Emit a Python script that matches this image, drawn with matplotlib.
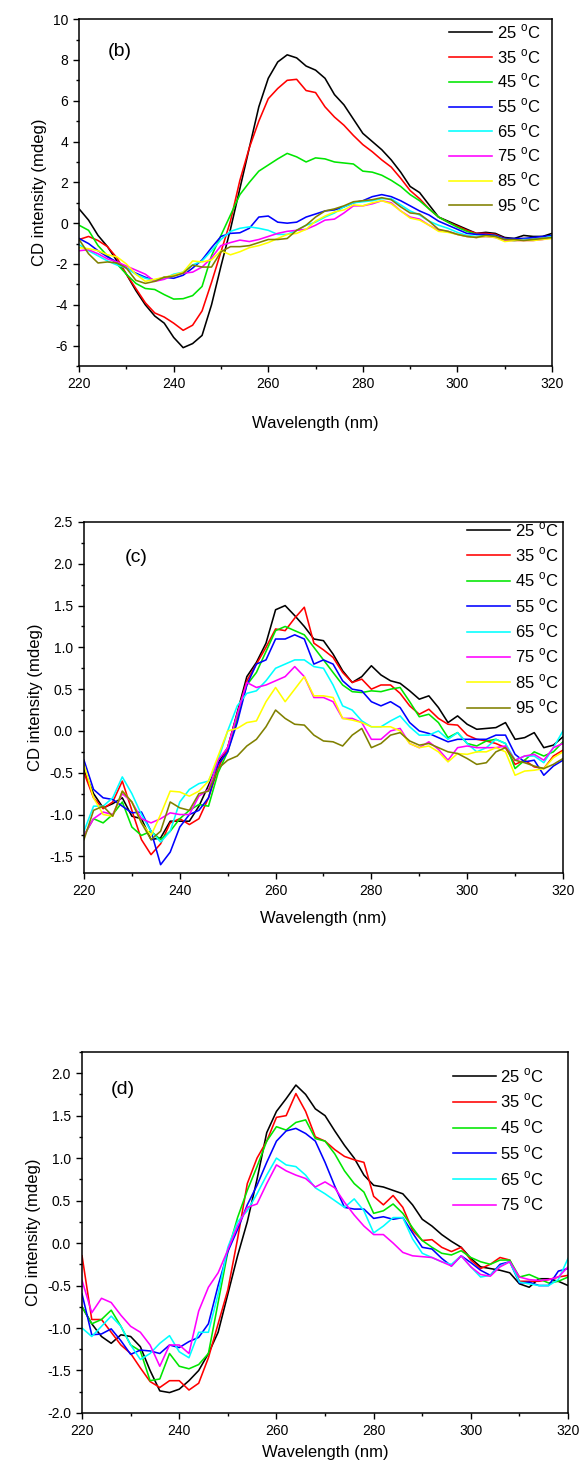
import numpy as np
import matplotlib
matplotlib.use('Agg')
import matplotlib.pyplot as plt
from matplotlib.ticker import MultipleLocator, FormatStrFormatter

plt.rcParams['font.family'] = ['Liberation Sans', 'DejaVu Sans']
plt.rcParams['axes.unicode_minus'] = False
plt.rcParams['mathtext.fontset'] = 'custom'
plt.rcParams['mathtext.rm'] = 'Liberation Sans'

# wavelength grid (nm), read every 2 nm
wl = np.arange(220, 321, 2)
temps = ['25', '35', '45', '55', '65', '75', '85', '95']
colors = ['#000000', '#ff0000', '#00e600', '#0000ff', '#00ffff', '#ff00ff', '#ffff00', '#808000']

# ---- panel (b) ----
b_25 = [0.7, 0.15, -0.6, -1.15, -1.85, -2.5, -3.3, -4.0, -4.55, -4.9, -5.6, -6.1, -5.9, -5.5, -4.0, -2.1, -0.3, 1.7, 3.7, 5.7, 7.1,
        7.9, 8.25, 8.1, 7.7, 7.5, 7.1, 6.3, 5.8, 5.1, 4.4, 4.0, 3.6, 3.1, 2.5, 1.8, 1.5, 0.9, 0.3, 0.1, -0.1,
        -0.3, -0.5, -0.45, -0.5, -0.7, -0.75, -0.6, -0.65, -0.65, -0.5]
b_35 = [-0.8, -0.65, -0.85, -1.15, -1.7, -2.5, -3.2, -3.9, -4.4, -4.6, -4.9, -5.25, -5.0, -4.3, -2.9, -1.4, 0.1, 2.1, 3.7, 5.0, 6.1,
        6.6, 7.0, 7.05, 6.5, 6.4, 5.7, 5.2, 4.8, 4.3, 3.85, 3.5, 3.1, 2.75, 2.2, 1.6, 1.2, 0.7, 0.3, 0.05, -0.15,
        -0.35, -0.5, -0.5, -0.55, -0.75, -0.8, -0.75, -0.8, -0.75, -0.7]
b_45 = [-0.1, -0.35, -1.1, -1.6, -2.0, -2.5, -2.95, -3.2, -3.25, -3.5, -3.72, -3.7, -3.55, -3.1, -1.6, -0.6, 0.4, 1.4, 2.0, 2.55, 2.85,
        3.15, 3.42, 3.25, 3.0, 3.2, 3.15, 3.0, 2.95, 2.9, 2.55, 2.5, 2.35, 2.1, 1.8, 1.4, 1.1, 0.7, 0.3, 0.05, -0.2,
        -0.4, -0.55, -0.6, -0.6, -0.8, -0.85, -0.8, -0.8, -0.75, -0.7]
b_55 = [-0.75, -1.0, -1.35, -1.65, -1.9, -2.2, -2.45, -2.65, -2.8, -2.65, -2.7, -2.55, -2.2, -1.8, -1.2, -0.65, -0.5, -0.47, -0.25, 0.3, 0.35,
        0.05, 0.0, 0.05, 0.3, 0.45, 0.6, 0.65, 0.8, 1.0, 1.1, 1.3, 1.4, 1.3, 1.1, 0.85, 0.6, 0.4, 0.1, -0.1, -0.3,
        -0.5, -0.55, -0.55, -0.6, -0.75, -0.75, -0.75, -0.7, -0.65, -0.6]
b_65 = [-1.05, -1.35, -1.6, -1.85, -2.05, -2.2, -2.5, -2.7, -2.8, -2.7, -2.5, -2.4, -2.05, -1.85, -1.35, -0.8, -0.4, -0.25, -0.18, -0.25, -0.35,
        -0.55, -0.55, -0.35, -0.1, 0.05, 0.3, 0.5, 0.8, 1.0, 1.05, 1.1, 1.2, 1.2, 0.9, 0.6, 0.4, 0.1, -0.1, -0.25, -0.45,
        -0.6, -0.65, -0.65, -0.65, -0.8, -0.85, -0.8, -0.8, -0.75, -0.65]
b_75 = [-1.35, -1.3, -1.5, -1.75, -1.9, -2.1, -2.3, -2.5, -2.85, -2.75, -2.55, -2.45, -2.4, -2.15, -1.7, -1.1, -0.95, -0.83, -0.9, -0.8, -0.65,
        -0.5, -0.4, -0.35, -0.3, -0.1, 0.15, 0.2, 0.5, 0.85, 0.85, 0.95, 1.1, 1.0, 0.6, 0.3, 0.2, -0.1, -0.35, -0.4, -0.55,
        -0.65, -0.7, -0.65, -0.7, -0.85, -0.85, -0.85, -0.85, -0.8, -0.7]
b_85 = [-1.2, -1.25, -1.35, -1.55, -1.65, -2.0, -2.5, -2.85, -2.75, -2.65, -2.55, -2.4, -1.85, -1.9, -1.8, -1.35, -1.55, -1.4, -1.2, -1.1, -0.95,
        -0.75, -0.55, -0.5, -0.3, 0.1, 0.35, 0.55, 0.65, 0.9, 0.85, 1.0, 1.1, 0.95, 0.6, 0.25, 0.15, -0.1, -0.4, -0.45, -0.55,
        -0.65, -0.7, -0.65, -0.7, -0.9, -0.85, -0.85, -0.85, -0.8, -0.75]
b_95 = [-0.8, -1.5, -1.95, -1.9, -1.95, -2.2, -2.8, -2.95, -2.85, -2.65, -2.6, -2.45, -2.05, -2.15, -2.15, -1.4, -1.15, -1.15, -1.1, -0.95, -0.8,
        -0.8, -0.75, -0.35, -0.1, 0.3, 0.6, 0.7, 0.85, 1.05, 1.1, 1.15, 1.25, 1.15, 0.8, 0.5, 0.45, 0.1, -0.3, -0.4, -0.55,
        -0.65, -0.7, -0.6, -0.65, -0.8, -0.8, -0.85, -0.8, -0.75, -0.7]

# ---- panel (c) ----
c_25 = [-0.47, -0.75, -0.92, -0.87, -0.8, -1.02, -1.05, -1.3, -1.28, -1.08, -1.08, -1.08, -0.9, -0.65, -0.38, -0.2, 0.22, 0.65, 0.82, 1.05, 1.45,
        1.5, 1.38, 1.25, 1.1, 1.08, 0.92, 0.72, 0.58, 0.65, 0.78, 0.67, 0.6, 0.57, 0.48, 0.38, 0.42, 0.28, 0.1, 0.18, 0.08,
        0.02, 0.03, 0.04, 0.1, -0.1, -0.08, -0.02, -0.2, -0.17, -0.07]
c_35 = [-0.5, -0.8, -0.93, -0.85, -0.6, -0.95, -1.3, -1.48, -1.35, -1.1, -1.05, -1.12, -1.05, -0.8, -0.45, -0.2, 0.2, 0.6, 0.8, 1.0, 1.22,
        1.2, 1.35, 1.48, 1.05, 0.97, 0.88, 0.7, 0.58, 0.62, 0.5, 0.55, 0.55, 0.45, 0.3, 0.2, 0.26, 0.15, 0.08, 0.07, -0.05,
        -0.1, -0.12, -0.15, -0.2, -0.4, -0.35, -0.43, -0.45, -0.3, -0.23]
c_45 = [-1.25, -1.05, -1.1, -1.0, -0.85, -1.15, -1.25, -1.2, -1.3, -1.2, -1.05, -0.95, -0.88, -0.9, -0.5, -0.25, 0.15, 0.55, 0.7, 0.95, 1.2,
        1.25, 1.2, 1.15, 1.0, 0.85, 0.7, 0.55, 0.47, 0.46, 0.48, 0.47, 0.5, 0.52, 0.35, 0.17, 0.2, 0.1, -0.08, -0.02, -0.15,
        -0.18, -0.12, -0.1, -0.15, -0.45, -0.35, -0.25, -0.3, -0.25, -0.13]
c_55 = [-0.35, -0.7, -0.8, -0.82, -0.9, -0.98, -0.97, -1.2, -1.6, -1.45, -1.15, -1.0, -0.95, -0.8, -0.4, -0.25, 0.1, 0.55, 0.8, 0.85, 1.1,
        1.1, 1.15, 1.1, 0.8, 0.85, 0.8, 0.6, 0.5, 0.48, 0.35, 0.3, 0.35, 0.28, 0.1, 0.0, -0.03, -0.08, -0.13, -0.1, -0.1,
        -0.1, -0.1, -0.05, -0.05, -0.28, -0.37, -0.35, -0.53, -0.42, -0.35]
c_65 = [-1.2, -0.9, -0.9, -0.8, -0.55, -0.75, -1.0, -1.2, -1.33, -1.2, -0.85, -0.7, -0.63, -0.6, -0.35, 0.0, 0.3, 0.45, 0.48, 0.6, 0.75,
        0.8, 0.85, 0.85, 0.77, 0.75, 0.55, 0.3, 0.25, 0.12, 0.05, 0.05, 0.12, 0.18, 0.05, -0.05, -0.05, 0.0, -0.1, -0.02, -0.15,
        -0.25, -0.2, -0.1, -0.15, -0.35, -0.3, -0.3, -0.38, -0.2, 0.0]
c_75 = [-1.25, -1.05, -0.97, -1.0, -0.75, -0.85, -1.05, -1.1, -1.05, -0.98, -1.0, -1.0, -0.78, -0.7, -0.35, -0.2, 0.2, 0.58, 0.52, 0.55, 0.6,
        0.65, 0.77, 0.65, 0.4, 0.4, 0.35, 0.15, 0.15, 0.1, -0.1, -0.1, 0.0, 0.03, -0.15, -0.2, -0.13, -0.22, -0.35, -0.2, -0.18,
        -0.2, -0.2, -0.2, -0.18, -0.35, -0.3, -0.28, -0.35, -0.2, -0.15]
c_85 = [-0.4, -0.8, -1.0, -1.02, -0.72, -0.85, -1.1, -1.25, -1.0, -0.72, -0.73, -0.78, -0.72, -0.6, -0.3, 0.0, 0.03, 0.1, 0.12, 0.35, 0.52,
        0.35, 0.5, 0.65, 0.42, 0.42, 0.4, 0.15, 0.13, 0.1, 0.05, 0.05, 0.05, 0.0, -0.15, -0.2, -0.18, -0.25, -0.37, -0.27, -0.28,
        -0.25, -0.25, -0.2, -0.25, -0.53, -0.48, -0.47, -0.45, -0.32, -0.25]
c_95 = [-1.3, -0.95, -0.9, -1.02, -0.72, -0.85, -1.1, -1.3, -1.2, -0.85, -0.92, -0.95, -0.75, -0.72, -0.45, -0.35, -0.3, -0.18, -0.1, 0.05, 0.25,
        0.15, 0.08, 0.07, -0.05, -0.12, -0.13, -0.18, -0.05, 0.03, -0.2, -0.15, -0.05, -0.02, -0.12, -0.17, -0.15, -0.2, -0.25, -0.27, -0.33,
        -0.4, -0.38, -0.25, -0.2, -0.35, -0.38, -0.42, -0.45, -0.4, -0.33]

# ---- panel (d) ----
d_25 = [-0.75, -0.95, -1.1, -1.18, -1.08, -1.1, -1.22, -1.5, -1.74, -1.76, -1.72, -1.62, -1.5, -1.3, -1.05, -0.6, -0.15, 0.25, 0.75, 1.3, 1.55,
        1.7, 1.86, 1.75, 1.58, 1.5, 1.32, 1.15, 1.0, 0.8, 0.68, 0.66, 0.62, 0.58, 0.45, 0.28, 0.2, 0.1, 0.02, -0.05, -0.18,
        -0.28, -0.3, -0.32, -0.35, -0.48, -0.52, -0.42, -0.42, -0.45, -0.5]
d_35 = [-0.15, -0.9, -0.9, -1.05, -1.2, -1.3, -1.47, -1.63, -1.7, -1.62, -1.62, -1.73, -1.65, -1.35, -0.95, -0.55, 0.05, 0.7, 1.0, 1.2, 1.48,
        1.5, 1.76, 1.55, 1.25, 1.2, 1.1, 1.02, 0.98, 0.95, 0.55, 0.45, 0.56, 0.42, 0.15, 0.03, 0.04, -0.05, -0.1, -0.05, -0.2,
        -0.3, -0.25, -0.17, -0.2, -0.45, -0.45, -0.45, -0.43, -0.4, -0.38]
d_45 = [-0.75, -0.95, -0.9, -0.79, -0.98, -1.2, -1.27, -1.62, -1.6, -1.3, -1.45, -1.48, -1.43, -1.3, -0.7, -0.1, 0.3, 0.62, 0.9, 1.2, 1.37,
        1.33, 1.42, 1.45, 1.23, 1.2, 1.05, 0.85, 0.7, 0.6, 0.35, 0.38, 0.46, 0.35, 0.18, 0.03, -0.05, -0.12, -0.14, -0.09, -0.17,
        -0.22, -0.25, -0.2, -0.2, -0.4, -0.37, -0.42, -0.47, -0.45, -0.4]
d_55 = [-0.6, -1.08, -1.07, -1.01, -1.15, -1.31, -1.26, -1.27, -1.3, -1.2, -1.23, -1.16, -1.11, -0.95, -0.5, -0.1, 0.16, 0.45, 0.68, 0.95, 1.2,
        1.32, 1.35, 1.29, 1.2, 0.95, 0.67, 0.42, 0.4, 0.4, 0.29, 0.31, 0.28, 0.3, 0.12, -0.05, -0.07, -0.18, -0.27, -0.15, -0.23,
        -0.32, -0.38, -0.25, -0.22, -0.47, -0.46, -0.5, -0.5, -0.33, -0.3]
d_65 = [-1.0, -1.1, -0.98, -0.86, -0.98, -1.2, -1.37, -1.3, -1.18, -1.09, -1.28, -1.35, -1.05, -1.05, -0.6, -0.05, 0.25, 0.38, 0.58, 0.8, 1.0,
        0.92, 0.9, 0.8, 0.65, 0.58, 0.5, 0.42, 0.52, 0.38, 0.12, 0.2, 0.3, 0.3, 0.05, -0.12, -0.17, -0.22, -0.25, -0.15, -0.28,
        -0.4, -0.38, -0.27, -0.22, -0.46, -0.48, -0.5, -0.5, -0.43, -0.18]
d_75 = [-0.44, -0.82, -0.65, -0.7, -0.85, -0.98, -1.05, -1.2, -1.45, -1.2, -1.2, -1.3, -0.8, -0.52, -0.35, -0.08, 0.2, 0.42, 0.46, 0.7, 0.92,
        0.85, 0.8, 0.76, 0.66, 0.72, 0.65, 0.48, 0.33, 0.2, 0.1, 0.1, 0.0, -0.11, -0.15, -0.16, -0.17, -0.22, -0.27, -0.15, -0.28,
        -0.37, -0.39, -0.28, -0.22, -0.4, -0.43, -0.44, -0.43, -0.4, -0.28]

panels = [
    dict(tag='(b)', series=[b_25, b_35, b_45, b_55, b_65, b_75, b_85, b_95],
         rect=[0.135, 0.751, 0.807, 0.236], ylim=(-7, 10), major=2, minor=1, fmt='%d',
         tagpos=(226.0, 8.4), leg=(0.975, 0.99), lsp=0.36, xpad=18),
    dict(tag='(c)', series=[c_25, c_35, c_45, c_55, c_65, c_75, c_85, c_95],
         rect=[0.1433, 0.4061, 0.8174, 0.2388], ylim=(-1.7, 2.5), major=0.5, minor=0.25, fmt='%.1f',
         tagpos=(228.5, 2.07), leg=(0.99, 1.005), lsp=0.4, xpad=9),
    dict(tag='(d)', series=[d_25, d_35, d_45, d_55, d_65, d_75],
         rect=[0.140, 0.0388, 0.8294, 0.2456], ylim=(-2.0, 2.25), major=0.5, minor=0.25, fmt='%.1f',
         tagpos=(226.0, 1.81), leg=(0.95, 0.96), lsp=0.42, xpad=5),
]

fig = plt.figure(figsize=(5.86, 14.7), dpi=100)

for p in panels:
    ax = fig.add_axes(p['rect'])
    for vals, t, c in zip(p['series'], temps, colors):
        ax.plot(wl, vals, color=c, lw=1.15, solid_joinstyle='round', label=t + r' $^\mathregular{o}$C')
    ax.set_xlim(220, 320)
    ax.set_ylim(*p['ylim'])
    ax.xaxis.set_major_locator(MultipleLocator(20))
    ax.xaxis.set_minor_locator(MultipleLocator(10))
    ax.yaxis.set_major_locator(MultipleLocator(p['major']))
    ax.yaxis.set_minor_locator(MultipleLocator(p['minor']))
    ax.yaxis.set_major_formatter(FormatStrFormatter(p['fmt']))
    ax.tick_params(which='both', direction='out', top=False, right=False, width=1.0, labelsize=10)
    ax.tick_params(which='major', length=4.5)
    ax.tick_params(which='minor', length=2.5)
    for s in ax.spines.values():
        s.set_linewidth(1.1)
    ax.set_xlabel('Wavelength (nm)', fontsize=12, labelpad=p['xpad'])
    ax.set_ylabel('CD intensity (mdeg)', fontsize=12, labelpad=4)
    ax.text(p['tagpos'][0], p['tagpos'][1], p['tag'], fontsize=14, va='center', ha='left')
    ax.legend(loc='upper right', bbox_to_anchor=p['leg'], frameon=False, fontsize=12,
              handlelength=2.6, handletextpad=0.25, labelspacing=p['lsp'], borderpad=0, borderaxespad=0)

fig.savefig('out.png', dpi=100)
